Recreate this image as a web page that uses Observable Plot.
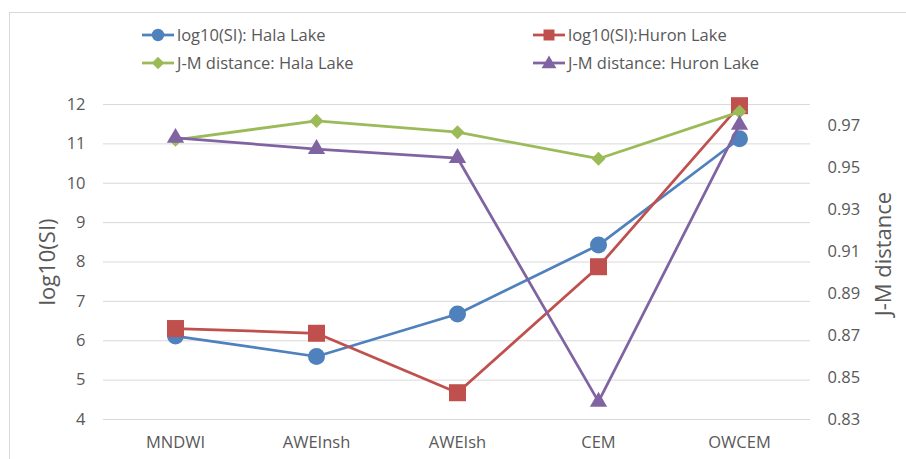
<!DOCTYPE html>
<html>
<head>
<meta charset="utf-8">
<script src="https://cdn.jsdelivr.net/npm/d3@7"></script>
<script src="https://cdn.jsdelivr.net/npm/@observablehq/plot@0.6"></script>
<style>
  html, body { margin: 0; padding: 0; background: #fff; overflow: hidden; }
  #wrap { position: relative; width: 906px; height: 459px; font-family: "Open Sans", sans-serif; color: #595959; }
  #frame { position: absolute; left: 9px; top: 12px; width: 1000px; height: 1000px; border-left: 1px solid #d9d9d9; border-top: 1px solid #d9d9d9; pointer-events: none; }
  #legend { position: relative; height: 80px; }
  .item { position: absolute; display: flex; align-items: center; font-size: 16.5px; white-space: nowrap; line-height: 1; }
  .item svg { margin-right: 3px; }
  #chart svg { display: block; }
</style>
</head>
<body>
<div id="wrap">
  <div id="frame"></div>
  <div id="legend"></div>
  <div id="chart"></div>
</div>
<script>
// ---- data ----
const categories = ["MNDWI", "AWEInsh", "AWEIsh", "CEM", "OWCEM"];
const seriesNames = ["log10(SI): Hala Lake", "log10(SI):Huron Lake", "J-M distance: Hala Lake", "J-M distance: Huron Lake"];
const siHala = [6.12, 5.60, 6.68, 8.43, 11.13];
const siHuron = [6.31, 6.19, 4.68, 7.88, 11.97];
const jmHala = [0.9632, 0.9722, 0.9668, 0.9542, 0.9765];
const jmHuron = [0.9641, 0.9588, 0.9545, 0.8385, 0.9703];
const leftTicks = [4, 5, 6, 7, 8, 9, 10, 11, 12];
const rightTicks = [0.83, 0.85, 0.87, 0.89, 0.91, 0.93, 0.95, 0.97];
const leftDomain = [4, 12];
const rightDomain = [0.83, 0.98];
const leftTitle = "log10(SI)";
const rightTitle = "J-M distance";

// ---- styling per series ----
const colors = ["#4F81BD", "#C0504D", "#9BBB59", "#8064A2"];
const symbols = ["circle", "square", "square", "triangle"];
const rotations = [0, 0, 45, 0];
const radii = [8.5, 9.6, 5.6, 6.4];
const seriesValues = [siHala, siHuron, jmHala, jmHuron];
const onRight = [false, false, true, true];

// map right-axis values into left-axis coordinates
const toLeft = v => leftDomain[0] + (v - rightDomain[0]) / (rightDomain[1] - rightDomain[0]) * (leftDomain[1] - leftDomain[0]);
const fromLeft = y => rightDomain[0] + (y - leftDomain[0]) / (leftDomain[1] - leftDomain[0]) * (rightDomain[1] - rightDomain[0]);

const rows = [];
seriesNames.forEach((name, s) => {
  seriesValues[s].forEach((v, i) => {
    rows.push({series: name, s, category: categories[i], value: v, y: onRight[s] ? toLeft(v) : v});
  });
});

// ---- legend ----
const legendPos = [[142, 35], [533, 35], [142, 63], [533, 63]];
const legend = document.getElementById("legend");
seriesNames.forEach((name, s) => {
  const div = document.createElement("div");
  div.className = "item";
  div.style.left = legendPos[s][0] + "px";
  div.style.top = (legendPos[s][1] - 11) + "px";
  div.style.height = "22px";
  const w = 32, h = 20;
  const symType = {circle: d3.symbolCircle, square: d3.symbolSquare, triangle: d3.symbolTriangle}[symbols[s]];
  const size = (s === 2 ? 5 : s === 3 ? 5.5 : 6.2) ** 2 * Math.PI;
  const path = d3.symbol(symType, size)();
  div.innerHTML = `<svg width="${w}" height="${h}"><line x1="0" x2="${w}" y1="${h/2}" y2="${h/2}" stroke="${colors[s]}" stroke-width="2.75"/><path d="${path}" fill="${colors[s]}" transform="translate(${w/2},${h/2 + (s===3?1:0)}) rotate(${rotations[s]})"/></svg><span>${name}</span>`;
  legend.appendChild(div);
});

// ---- chart ----
const marks = [
  Plot.gridY(leftTicks, {stroke: "#d9d9d9", strokeOpacity: 1, strokeWidth: 1}),
  Plot.axisY(leftTicks, {anchor: "left", tickSize: 0, tickPadding: 18, label: null, fontSize: 16.5}),
  Plot.axisY(rightTicks.map(toLeft), {anchor: "right", tickSize: 0, tickPadding: 17, label: null, fontSize: 16.5,
    tickFormat: d => fromLeft(d).toFixed(2)}),
  Plot.axisX({tickSize: 0, tickPadding: 17, label: null, fontSize: 16.5})
];
seriesNames.forEach((name, s) => {
  const data = rows.filter(r => r.s === s);
  marks.push(Plot.line(data, {x: "category", y: "y", stroke: colors[s], strokeWidth: 2.75}));
  marks.push(Plot.dot(data, {x: "category", y: "y", fill: colors[s], stroke: "none", symbol: symbols[s], r: radii[s], rotate: rotations[s]}));
});
marks.push(Plot.text([leftTitle], {frameAnchor: "left", dx: -56, rotate: -90, textAnchor: "middle", fontSize: 22, fill: "#595959"}));
marks.push(Plot.text([rightTitle], {frameAnchor: "right", dx: 73, dy: -8, rotate: -90, textAnchor: "middle", fontSize: 22, fill: "#595959"}));

const chart = Plot.plot({
  width: 906,
  height: 379,
  marginTop: 24,
  marginBottom: 40,
  marginLeft: 103,
  marginRight: 96,
  style: {fontFamily: "Open Sans, sans-serif", fontSize: "16.5px", color: "#595959", background: "transparent"},
  x: {type: "point", domain: categories, padding: 0.5, label: null},
  y: {domain: leftDomain, label: null},
  marks
});
document.getElementById("chart").appendChild(chart);
</script>
</body>
</html>
